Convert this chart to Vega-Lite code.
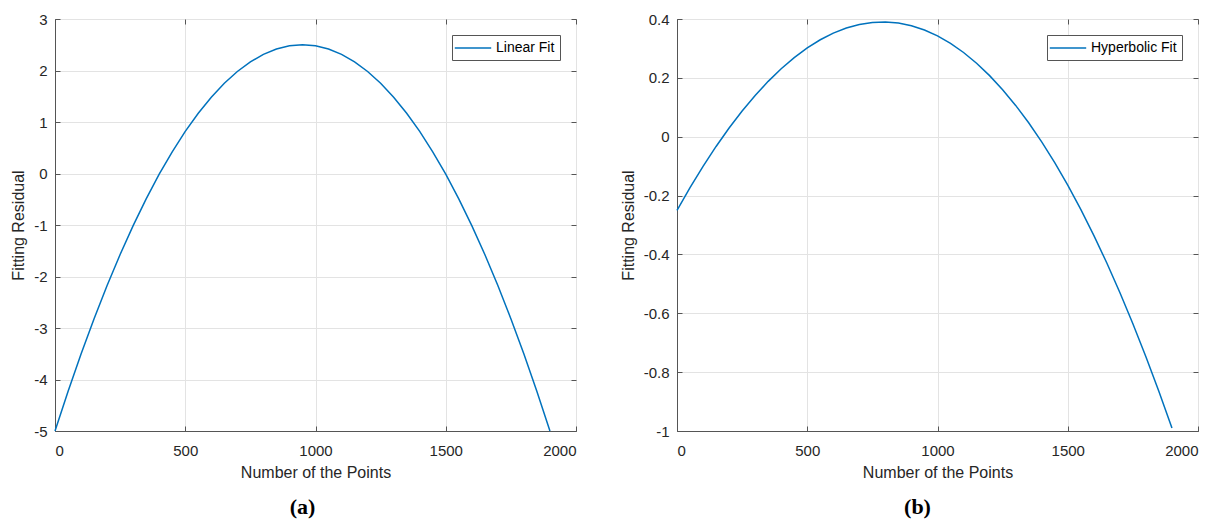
{
  "$schema": "https://vega.github.io/schema/vega-lite/v6.json",
  "padding": {"left": 10, "top": 11, "right": 5, "bottom": 5},
  "background": "white",
  "datasets": {
    "linear": [
      {"points": 0, "residual": -5, "fit": "Linear Fit"},
      {"points": 50, "residual": -4.231, "fit": "Linear Fit"},
      {"points": 100, "residual": -3.504, "fit": "Linear Fit"},
      {"points": 150, "residual": -2.819, "fit": "Linear Fit"},
      {"points": 200, "residual": -2.175, "fit": "Linear Fit"},
      {"points": 250, "residual": -1.572, "fit": "Linear Fit"},
      {"points": 300, "residual": -1.011, "fit": "Linear Fit"},
      {"points": 350, "residual": -0.492, "fit": "Linear Fit"},
      {"points": 400, "residual": -0.014, "fit": "Linear Fit"},
      {"points": 450, "residual": 0.422, "fit": "Linear Fit"},
      {"points": 500, "residual": 0.817, "fit": "Linear Fit"},
      {"points": 550, "residual": 1.17, "fit": "Linear Fit"},
      {"points": 600, "residual": 1.482, "fit": "Linear Fit"},
      {"points": 650, "residual": 1.752, "fit": "Linear Fit"},
      {"points": 700, "residual": 1.981, "fit": "Linear Fit"},
      {"points": 750, "residual": 2.168, "fit": "Linear Fit"},
      {"points": 800, "residual": 2.313, "fit": "Linear Fit"},
      {"points": 850, "residual": 2.417, "fit": "Linear Fit"},
      {"points": 900, "residual": 2.479, "fit": "Linear Fit"},
      {"points": 950, "residual": 2.5, "fit": "Linear Fit"},
      {"points": 1000, "residual": 2.479, "fit": "Linear Fit"},
      {"points": 1050, "residual": 2.417, "fit": "Linear Fit"},
      {"points": 1100, "residual": 2.313, "fit": "Linear Fit"},
      {"points": 1150, "residual": 2.168, "fit": "Linear Fit"},
      {"points": 1200, "residual": 1.981, "fit": "Linear Fit"},
      {"points": 1250, "residual": 1.752, "fit": "Linear Fit"},
      {"points": 1300, "residual": 1.482, "fit": "Linear Fit"},
      {"points": 1350, "residual": 1.17, "fit": "Linear Fit"},
      {"points": 1400, "residual": 0.817, "fit": "Linear Fit"},
      {"points": 1450, "residual": 0.422, "fit": "Linear Fit"},
      {"points": 1500, "residual": -0.014, "fit": "Linear Fit"},
      {"points": 1550, "residual": -0.492, "fit": "Linear Fit"},
      {"points": 1600, "residual": -1.011, "fit": "Linear Fit"},
      {"points": 1650, "residual": -1.572, "fit": "Linear Fit"},
      {"points": 1700, "residual": -2.175, "fit": "Linear Fit"},
      {"points": 1750, "residual": -2.819, "fit": "Linear Fit"},
      {"points": 1800, "residual": -3.504, "fit": "Linear Fit"},
      {"points": 1850, "residual": -4.231, "fit": "Linear Fit"},
      {"points": 1900, "residual": -5, "fit": "Linear Fit"}
    ],
    "hyper": [
      {"points": 0, "residual": -0.25, "fit": "Hyperbolic Fit"},
      {"points": 50, "residual": -0.1729, "fit": "Hyperbolic Fit"},
      {"points": 100, "residual": -0.1006, "fit": "Hyperbolic Fit"},
      {"points": 150, "residual": -0.0331, "fit": "Hyperbolic Fit"},
      {"points": 200, "residual": 0.0296, "fit": "Hyperbolic Fit"},
      {"points": 250, "residual": 0.0873, "fit": "Hyperbolic Fit"},
      {"points": 300, "residual": 0.1402, "fit": "Hyperbolic Fit"},
      {"points": 350, "residual": 0.1881, "fit": "Hyperbolic Fit"},
      {"points": 400, "residual": 0.231, "fit": "Hyperbolic Fit"},
      {"points": 450, "residual": 0.2689, "fit": "Hyperbolic Fit"},
      {"points": 500, "residual": 0.3017, "fit": "Hyperbolic Fit"},
      {"points": 550, "residual": 0.3294, "fit": "Hyperbolic Fit"},
      {"points": 600, "residual": 0.3519, "fit": "Hyperbolic Fit"},
      {"points": 650, "residual": 0.3693, "fit": "Hyperbolic Fit"},
      {"points": 700, "residual": 0.3814, "fit": "Hyperbolic Fit"},
      {"points": 750, "residual": 0.3883, "fit": "Hyperbolic Fit"},
      {"points": 800, "residual": 0.3899, "fit": "Hyperbolic Fit"},
      {"points": 850, "residual": 0.3862, "fit": "Hyperbolic Fit"},
      {"points": 900, "residual": 0.377, "fit": "Hyperbolic Fit"},
      {"points": 950, "residual": 0.3625, "fit": "Hyperbolic Fit"},
      {"points": 1000, "residual": 0.3426, "fit": "Hyperbolic Fit"},
      {"points": 1050, "residual": 0.3171, "fit": "Hyperbolic Fit"},
      {"points": 1100, "residual": 0.2862, "fit": "Hyperbolic Fit"},
      {"points": 1150, "residual": 0.2497, "fit": "Hyperbolic Fit"},
      {"points": 1200, "residual": 0.2076, "fit": "Hyperbolic Fit"},
      {"points": 1250, "residual": 0.1598, "fit": "Hyperbolic Fit"},
      {"points": 1300, "residual": 0.1064, "fit": "Hyperbolic Fit"},
      {"points": 1350, "residual": 0.0473, "fit": "Hyperbolic Fit"},
      {"points": 1400, "residual": -0.0175, "fit": "Hyperbolic Fit"},
      {"points": 1450, "residual": -0.0881, "fit": "Hyperbolic Fit"},
      {"points": 1500, "residual": -0.1646, "fit": "Hyperbolic Fit"},
      {"points": 1550, "residual": -0.2469, "fit": "Hyperbolic Fit"},
      {"points": 1600, "residual": -0.3351, "fit": "Hyperbolic Fit"},
      {"points": 1650, "residual": -0.4292, "fit": "Hyperbolic Fit"},
      {"points": 1700, "residual": -0.5293, "fit": "Hyperbolic Fit"},
      {"points": 1750, "residual": -0.6354, "fit": "Hyperbolic Fit"},
      {"points": 1800, "residual": -0.7475, "fit": "Hyperbolic Fit"},
      {"points": 1850, "residual": -0.8657, "fit": "Hyperbolic Fit"},
      {"points": 1900, "residual": -0.99, "fit": "Hyperbolic Fit"}
    ]
  },
  "config": {
    "font": "Liberation Sans",
    "view": {"stroke": "#555555", "strokeWidth": 1},
    "axis": {
      "labelFont": "Liberation Sans",
      "labelFontSize": 15,
      "labelColor": "#262626",
      "titleFont": "Liberation Sans",
      "titleFontSize": 16,
      "titleFontWeight": "normal",
      "titleColor": "#262626",
      "gridColor": "#e3e3e3",
      "gridWidth": 1,
      "domainColor": "#555555",
      "tickColor": "#555555",
      "tickSize": -5,
      "labelExpr": "'' + datum.value"
    },
    "axisX": {"labelPadding": 17},
    "axisY": {"labelPadding": 13},
    "legend": {
      "orient": "top-right",
      "offset": 16,
      "padding": 5,
      "strokeColor": "#555555",
      "fillColor": "white",
      "labelFont": "Liberation Sans",
      "labelFontSize": 14,
      "labelColor": "#000000",
      "symbolType": "M-2.6,0H2.6",
      "symbolStrokeWidth": 1.5,
      "symbolSize": 196,
      "symbolOffset": 8,
      "labelOffset": 15
    },
    "title": {"font": "Liberation Serif", "fontSize": 22, "fontWeight": "bold", "color": "#000000", "frame": "group"}
  },
  "spacing": 42,
  "resolve": {"scale": {"color": "independent"}, "legend": {"color": "independent"}},
  "hconcat": [
    {
      "width": 521,
      "height": 412,
      "title": {"text": "(a)", "orient": "bottom", "offset": 17, "frame": "group", "dx": -13},
      "data": {"name": "linear"},
      "layer": [
        {
          "mark": {"type": "line", "strokeWidth": 1.5},
          "encoding": {
            "x": {"field": "points", "type": "quantitative", "scale": {"domain": [0, 2000], "nice": false}, "axis": {"title": "Number of the Points", "values": [0, 500, 1000, 1500, 2000], "titlePadding": 6}},
            "y": {"field": "residual", "type": "quantitative", "scale": {"domain": [-5, 3], "nice": false}, "axis": {"title": "Fitting Residual", "values": [-5, -4, -3, -2, -1, 0, 1, 2, 3], "titlePadding": 7}},
            "color": {"field": "fit", "type": "nominal", "scale": {"domain": ["Linear Fit"], "range": ["#0072BD"]}, "legend": {"title": null, "orient": "top-right"}}
          }
        },
        {
          "mark": {"type": "line", "opacity": 0},
          "encoding": {
            "x": {"field": "points", "type": "quantitative", "axis": {"orient": "top", "labels": false, "title": null, "grid": false, "domain": false, "values": [0, 500, 1000, 1500, 2000]}},
            "y": {"field": "residual", "type": "quantitative", "axis": {"orient": "right", "labels": false, "title": null, "grid": false, "domain": false, "values": [-5, -4, -3, -2, -1, 0, 1, 2, 3]}}
          }
        }
      ],
      "resolve": {"axis": {"x": "independent", "y": "independent"}}
    },
    {
      "width": 521,
      "height": 412,
      "title": {"text": "(b)", "orient": "bottom", "offset": 17, "frame": "group", "dx": -20},
      "data": {"name": "hyper"},
      "layer": [
        {
          "mark": {"type": "line", "strokeWidth": 1.5},
          "encoding": {
            "x": {"field": "points", "type": "quantitative", "scale": {"domain": [0, 2000], "nice": false}, "axis": {"title": "Number of the Points", "values": [0, 500, 1000, 1500, 2000], "titlePadding": 6}},
            "y": {"field": "residual", "type": "quantitative", "scale": {"domain": [-1, 0.4], "nice": false}, "axis": {"title": "Fitting Residual", "values": [-1, -0.8, -0.6, -0.4, -0.2, 0, 0.2, 0.4], "titlePadding": 7}},
            "color": {"field": "fit", "type": "nominal", "scale": {"domain": ["Hyperbolic Fit"], "range": ["#0072BD"]}, "legend": {"title": null, "orient": "top-right"}}
          }
        },
        {
          "mark": {"type": "line", "opacity": 0},
          "encoding": {
            "x": {"field": "points", "type": "quantitative", "axis": {"orient": "top", "labels": false, "title": null, "grid": false, "domain": false, "values": [0, 500, 1000, 1500, 2000]}},
            "y": {"field": "residual", "type": "quantitative", "axis": {"orient": "right", "labels": false, "title": null, "grid": false, "domain": false, "values": [-1, -0.8, -0.6, -0.4, -0.2, 0, 0.2, 0.4]}}
          }
        }
      ],
      "resolve": {"axis": {"x": "independent", "y": "independent"}}
    }
  ]
}
